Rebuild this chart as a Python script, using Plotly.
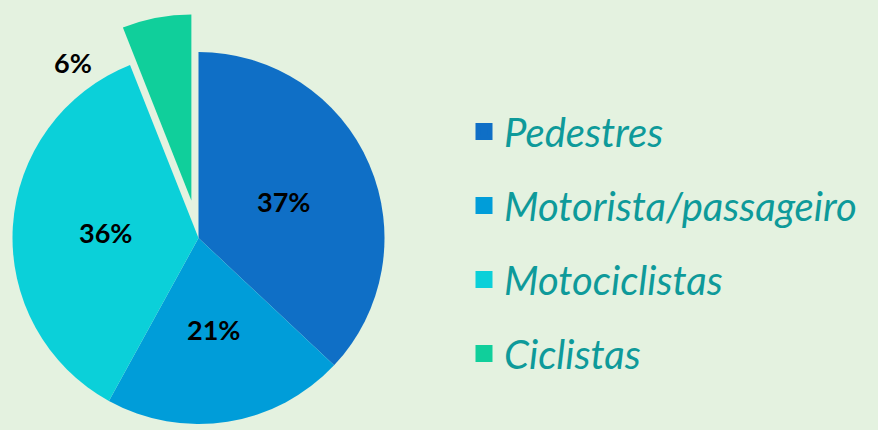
import math
import plotly.graph_objects as go

# ---- data ----
categories = ["Pedestres", "Motorista/passageiro", "Motociclistas", "Ciclistas"]
values = [37, 21, 36, 6]
colors = ["#0F6FC6", "#009DD9", "#0BD0D9", "#10CF9B"]
pulled = "Ciclistas"

# ---- geometry / style ----
W, H = 878, 430
BG = "#E4F2E0"
TXT = "#0E9A9A"
cx, cy, r = 198.5, 238.0, 186.0
pull = 0.205
label_r = 0.5
CLEAR = "rgba(0,0,0,0)"

total = sum(values)
idx = categories.index(pulled)
start = sum(values[:idx]) / total * 360.0
span = values[idx] / total * 360.0
mid = start + span / 2.0
dx = pull * r * math.sin(math.radians(mid))
dy = -pull * r * math.cos(math.radians(mid))


def dom(x0, y0, rad):
    return dict(x=[(x0 - rad) / W, (x0 + rad) / W],
                y=[1 - (y0 + rad) / H, 1 - (y0 - rad) / H])


label_font = dict(family="Lato", size=27, color="black", weight="bold")

fig = go.Figure()

# legend-only traces (tiny, hidden under the main pie), one per category
for i, (cat, val, col) in enumerate(zip(categories, values, colors)):
    fig.add_trace(go.Pie(
        labels=[cat], values=[val], sort=False,
        marker=dict(colors=[col], line=dict(color=[col], width=8)),
        domain=dict(x=[(cx + 80) / W, (cx + 80.02) / W],
                    y=[1 - (cy - 40 + 0.01) / H, 1 - (cy - 40) / H]),
        textinfo="none", hoverinfo="skip", showlegend=True,
        legendgroup=f"g{i}",
    ))

# main pie (pulled slice left empty)
main_colors = [CLEAR if i == idx else c for i, c in enumerate(colors)]
fig.add_trace(go.Pie(
    labels=categories, values=values, sort=False, direction="clockwise",
    rotation=0,
    marker=dict(colors=main_colors, line=dict(width=0)),
    domain=dom(cx, cy, r),
    textinfo="none", hoverinfo="skip", showlegend=False,
))

# pulled slice
rot = start if start <= 180 else start - 360
fig.add_trace(go.Pie(
    labels=[pulled, "_rest"], values=[values[idx], total - values[idx]],
    sort=False, direction="clockwise", rotation=rot,
    marker=dict(colors=[colors[idx], CLEAR], line=dict(width=0)),
    domain=dom(cx + dx, cy + dy, r),
    textinfo="none", hoverinfo="skip", showlegend=False,
))

# percentage labels
acc = 0.0
for i, v in enumerate(values):
    a = (acc + v / 2.0) / total * 360.0
    acc += v
    pct = f"{round(100 * v / total)}%"
    if i == idx:
        px, py = 73, 63
    else:
        px = cx + label_r * r * math.sin(math.radians(a))
        py = cy - label_r * r * math.cos(math.radians(a))
    fig.add_annotation(
        x=px / W, y=1 - py / H, xref="paper", yref="paper",
        text=pct, showarrow=False, font=label_font,
        xanchor="center", yanchor="middle",
    )

fig.update_layout(
    width=W, height=H,
    margin=dict(l=0, r=0, t=0, b=0),
    paper_bgcolor=BG, plot_bgcolor=BG,
    legend=dict(
        x=464 / W, y=1 - 99 / H, xanchor="left", yanchor="top",
        traceorder="grouped", tracegroupgap=19,
        font=dict(family="Lato", size=40, color=TXT, style="italic"),
        bgcolor="rgba(0,0,0,0)",
    ),
)

fig.write_html("out.html", config={"displayModeBar": False},
               post_script="document.body.style.margin='0';")
